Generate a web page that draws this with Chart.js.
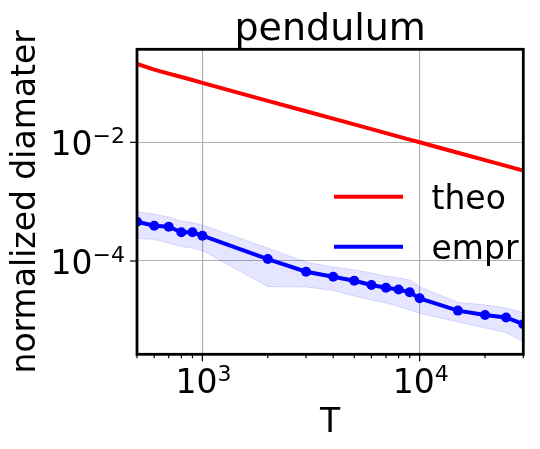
<!DOCTYPE html>
<html><head><meta charset="utf-8">
<script src="https://cdn.jsdelivr.net/npm/chart.js@4.4.1/dist/chart.umd.min.js"></script>
<style>html,body{margin:0;padding:0;background:#fff}</style>
</head><body>
<canvas id="c" width="540" height="449"></canvas>
<script>
// ---- data ----
const T = [500, 600, 700, 800, 900, 1000, 2000, 3000, 4000, 5000, 6000, 7000, 8000, 9000, 10000, 15000, 20000, 25000, 30000];
const theo = [0.21, 0.168, 0.144, 0.126, 0.112, 0.1, 0.05, 0.0333, 0.025, 0.02, 0.0167, 0.0143, 0.0125, 0.0111, 0.01, 0.00667, 0.005, 0.004, 0.00333];
const empr = [4.59e-4, 3.94e-4, 3.79e-4, 3.05e-4, 3.05e-4, 2.67e-4, 1.08e-4, 6.6e-5, 5.44e-5, 4.65e-5, 3.94e-5, 3.55e-5, 3.31e-5, 2.97e-5, 2.35e-5, 1.46e-5, 1.23e-5, 1.12e-5, 8.6e-6];
const emprUpper = [6.74e-4, 6.17e-4, 5.48e-4, 4.70e-4, 4.44e-4, 4.03e-4, 1.65e-4, 9.6e-5, 7.9e-5, 7.06e-5, 6.28e-5, 5.6e-5, 5.18e-5, 4.8e-5, 3.7e-5, 2.01e-5, 1.82e-5, 1.62e-5, 1.34e-5];
const emprLower = [2.41e-4, 2.30e-4, 2.01e-4, 1.75e-4, 1.65e-4, 1.50e-4, 3.7e-5, 3.66e-5, 3.19e-5, 2.58e-5, 2.21e-5, 1.97e-5, 1.72e-5, 1.5e-5, 1.32e-5, 9.4e-6, 7.5e-6, 6.2e-6, 4.4e-6];
const xRange = [500, 30000];
const yRange = [2.68e-6, 0.369];
const xMajorTicks = [1000, 10000];
const xMajorLabels = [['10', '3'], ['10', '4']];
const xMinorTicks = [500, 600, 700, 800, 900, 2000, 3000, 4000, 5000, 6000, 7000, 8000, 9000, 20000, 30000];
const yMajorTicks = [1e-2, 1e-4];
const yMajorLabels = [['10', '\u22122'], ['10', '\u22124']];
const titleText = 'pendulum';
const xLabel = 'T';
const yLabel = 'normalized diamater';
const legendItems = [['theo', '#ff0000'], ['empr', '#0000ff']];

const pts = (ys) => T.map((t, i) => ({x: t, y: ys[i]}));
const FONT = '"DejaVu Sans", sans-serif';

const deco = {
  id: 'deco',
  afterDraw(chart) {
    const {ctx, chartArea: a, scales: {x, y}} = chart;
    ctx.save();
    ctx.strokeStyle = '#000';
    ctx.lineWidth = 1.2;
    const seg = (x1, y1, x2, y2) => { ctx.beginPath(); ctx.moveTo(x1, y1); ctx.lineTo(x2, y2); ctx.stroke(); };
    xMinorTicks.forEach(v => { const p = x.getPixelForValue(v); seg(p, a.bottom, p, a.bottom + 4); });
    xMajorTicks.forEach(v => { const p = x.getPixelForValue(v); seg(p, a.bottom, p, a.bottom + 7); });
    yMajorTicks.forEach(v => { const p = y.getPixelForValue(v); seg(a.left, p, a.left - 7, p); });
    // frame
    ctx.lineWidth = 2.8;
    ctx.strokeRect(a.left, a.top, a.right - a.left, a.bottom - a.top);
    // tick labels
    ctx.fillStyle = '#000';
    ctx.textBaseline = 'alphabetic';
    ctx.textAlign = 'left';
    const big = '33px ' + FONT, small = '22px ' + FONT;
    xMajorTicks.forEach((v, i) => {
      const p = x.getPixelForValue(v);
      ctx.font = big; const w1 = ctx.measureText(xMajorLabels[i][0]).width;
      ctx.font = small; const w2 = ctx.measureText(xMajorLabels[i][1]).width;
      const sx = p - (w1 + w2) / 2 + 1;
      ctx.font = big; ctx.fillText(xMajorLabels[i][0], sx, a.bottom + 38.5);
      ctx.font = small; ctx.fillText(xMajorLabels[i][1], sx + w1, a.bottom + 27);
    });
    yMajorTicks.forEach((v, i) => {
      const p = y.getPixelForValue(v);
      ctx.font = big; const w1 = ctx.measureText(yMajorLabels[i][0]).width;
      ctx.font = small; const w2 = ctx.measureText(yMajorLabels[i][1]).width;
      const ex = a.left - 12;
      ctx.font = small; ctx.fillText(yMajorLabels[i][1], ex - w2, p + 1);
      ctx.font = big; ctx.fillText(yMajorLabels[i][0], ex - w2 - w1, p + 12.7);
    });
    // title
    ctx.textAlign = 'center';
    ctx.font = '38px ' + FONT;
    ctx.fillText(titleText, (a.left + a.right) / 2, 40);
    // axis labels
    ctx.font = big;
    ctx.fillText(xLabel, (a.left + a.right) / 2, 431.5);
    ctx.save();
    ctx.translate(35, (a.top + a.bottom) / 2);
    ctx.rotate(-Math.PI / 2);
    ctx.fillText(yLabel, 0, 0);
    ctx.restore();
    // legend
    ctx.textAlign = 'left';
    ctx.lineWidth = 4;
    legendItems.forEach(([txt, col], i) => {
      const ly = 196.7 + i * 50;
      ctx.strokeStyle = col;
      seg(334, ly, 403, ly);
      ctx.fillStyle = '#000';
      ctx.font = big;
      ctx.fillText(txt, 431.5, ly + 12.3);
    });
    ctx.restore();
  }
};

const gridCol = (majors) => (c) => (c.tick && majors.includes(c.tick.value)) ? '#b0b0b0' : 'rgba(0,0,0,0)';

new Chart(document.getElementById('c'), {
  type: 'line',
  data: {
    datasets: [
      {label: 'empr', data: pts(empr), borderColor: '#0000ff', backgroundColor: '#0000ff', borderWidth: 4,
       pointRadius: 5, pointBorderWidth: 0, pointBackgroundColor: '#0000ff', tension: 0, clip: 0, fill: false},
      {label: 'theo', data: pts(theo), borderColor: '#ff0000', borderWidth: 4, pointRadius: 0, tension: 0, clip: 0, fill: false},
      {label: 'upper', data: pts(emprUpper), borderColor: 'rgba(0,0,255,0.13)', borderWidth: 1,
       backgroundColor: 'rgba(0,0,255,0.1)', pointRadius: 0, tension: 0, clip: 0, fill: '+1'},
      {label: 'lower', data: pts(emprLower), borderColor: 'rgba(0,0,255,0.13)', borderWidth: 1,
       pointRadius: 0, tension: 0, clip: 0, fill: false}
    ]
  },
  options: {
    responsive: false,
    animation: false,
    devicePixelRatio: 1,
    layout: {padding: {left: 0, top: 49.3, right: 16.7, bottom: 0}},
    plugins: {legend: {display: false}, title: {display: false}, tooltip: {enabled: false}},
    scales: {
      x: {
        type: 'logarithmic', min: xRange[0], max: xRange[1], bounds: 'data',
        afterBuildTicks: (s) => { s.ticks = xMajorTicks.concat(xMinorTicks).sort((p, q) => p - q).map(v => ({value: v})); },
        afterFit: (s) => { s.height = 94.7; },
        ticks: {display: false},
        grid: {color: gridCol(xMajorTicks), lineWidth: 1.1, drawTicks: false},
        border: {display: false}
      },
      y: {
        type: 'logarithmic', min: yRange[0], max: yRange[1], bounds: 'data',
        afterBuildTicks: (s) => { s.ticks = yMajorTicks.map(v => ({value: v})); },
        afterFit: (s) => { s.width = 137; },
        ticks: {display: false},
        grid: {color: gridCol(yMajorTicks), lineWidth: 1.1, drawTicks: false},
        border: {display: false}
      }
    }
  },
  plugins: [deco]
});
</script>
</body></html>
